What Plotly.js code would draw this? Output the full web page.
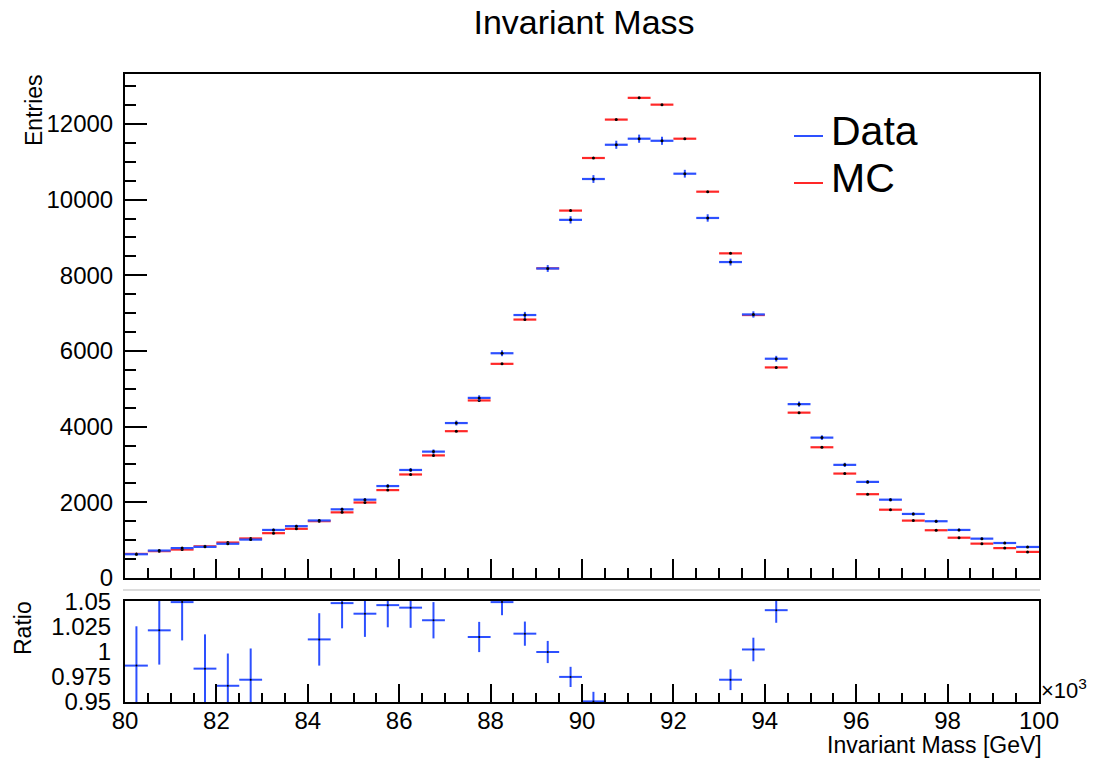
<!DOCTYPE html>
<html>
<head>
<meta charset="utf-8">
<script src="https://cdn.plot.ly/plotly-3.0.1.min.js"></script>
<style>html,body{margin:0;padding:0;background:#fff;}#chart{width:1094px;height:759px;}</style>
</head>
<body>
<div id="chart"></div>
<script>
// Bin centres of the invariant-mass histogram [GeV x 10^3]
const binCenters = [80.25,80.75,81.25,81.75,82.25,82.75,83.25,83.75,84.25,84.75,
                    85.25,85.75,86.25,86.75,87.25,87.75,88.25,88.75,89.25,89.75,
                    90.25,90.75,91.25,91.75,92.25,92.75,93.25,93.75,94.25,94.75,
                    95.25,95.75,96.25,96.75,97.25,97.75,98.25,98.75,99.25,99.75];
const binHalfWidth = 0.25;

// Data entries (blue)
const dataEntries = [628,725,790,823,905,1015,1270,1370,1520,1815,
                     2070,2430,2855,3340,4095,4760,5940,6950,8180,9465,
                     10545,11450,11610,11555,10685,9515,8350,6965,5795,4595,
                     3710,2990,2540,2070,1693,1500,1270,1040,925,820];
// Data statistical errors
const dataErrors = [25,27,28,29,30,32,36,37,39,43,
                    45,49,53,58,64,69,77,83,90,97,
                    103,107,108,107,103,98,91,83,76,68,
                    61,55,50,45,41,39,36,32,30,29];
// MC entries (red)
const mcEntries = [637,710,752,837,937,1045,1185,1300,1502,1735,
                   1995,2323,2736,3240,3880,4692,5660,6830,8185,9710,
                   11100,12115,12690,12510,11610,10210,8580,6950,5565,4370,
                   3455,2760,2215,1805,1517,1262,1065,908,790,690];

// Data/MC ratio as drawn in the lower pad (null = outside the shown range)
const ratioValues = [0.986,1.021,1.049,0.983,0.966,0.972,null,null,1.012,1.048,
                     1.0375,1.046,1.0435,1.031,null,1.0144,1.049,1.0177,0.9995,0.9748,
                     0.9505,null,null,null,null,null,0.972,1.002,1.041,null,
                     null,null,null,null,null,null,null,null,null,null];
const ratioErrors = [0.039,0.034,0.038,0.034,0.032,0.031,null,null,0.026,0.025,
                     0.023,0.022,0.020,0.018,null,0.015,0.013,0.012,0.011,0.010,
                     0.0095,null,null,null,null,null,0.0103,0.0117,0.0125,null,
                     null,null,null,null,null,null,null,null,null,null];

const xTickVals = [80,82,84,86,88,90,92,94,96,98,100];
const xTickText = ['80','82','84','86','88','90','92','94','96','98','100'];
const yTickVals = [0,2000,4000,6000,8000,10000,12000];
const yTickText = ['0','2000','4000','6000','8000','10000','12000'];
const ratioTickVals = [0.95,0.975,1,1.025,1.05];
const ratioTickText = ['0.95','0.975','1','1.025','1.05'];
const legendLabels = ['Data','MC'];

const BLUE = 'rgb(45,80,255)';
const RED = 'rgb(255,40,40)';
const FONT = 'Liberation Sans, Arial, Helvetica, sans-serif';

// pixel helpers for layout placement (plot area: x 125..1039, y 74..702)
const L = 125, R = 1039, T = 74, B = 702;
const px = x => (x - L) / (R - L);
const py = y => (B - y) / (B - T);

const traces = [
  {
    type: 'scatter', mode: 'markers', name: legendLabels[1],
    x: binCenters, y: mcEntries, xaxis: 'x', yaxis: 'y',
    marker: {size: 3, color: '#000'},
    error_x: {type: 'constant', value: binHalfWidth, color: RED, thickness: 2.2, width: 0},
    showlegend: false, hoverinfo: 'x+y'
  },
  {
    type: 'scatter', mode: 'markers', name: legendLabels[0],
    x: binCenters, y: dataEntries, xaxis: 'x', yaxis: 'y',
    marker: {size: 3, color: '#000'},
    error_x: {type: 'constant', value: binHalfWidth, color: BLUE, thickness: 2.2, width: 0},
    error_y: {type: 'data', array: dataErrors, color: BLUE, thickness: 2, width: 0},
    showlegend: false, hoverinfo: 'x+y'
  },
  {
    type: 'scatter', mode: 'markers', name: 'Ratio',
    x: binCenters, y: ratioValues, xaxis: 'x2', yaxis: 'y2',
    marker: {size: 2, color: '#000'},
    error_x: {type: 'constant', value: binHalfWidth, color: BLUE, thickness: 2, width: 0},
    error_y: {type: 'data', array: ratioErrors, color: BLUE, thickness: 2, width: 0},
    showlegend: false, hoverinfo: 'x+y'
  }
];

const tickFont = {family: FONT, size: 24, color: '#000'};
const mainBottom = py(578);
const ratioTop = py(601);

const layout = {
  width: 1094, height: 759,
  margin: {l: L, r: 1094 - R, t: T, b: 759 - B, pad: 0},
  paper_bgcolor: '#fff', plot_bgcolor: '#fff',
  showlegend: false,
  font: {family: FONT, color: '#000'},
  title: {text: 'Invariant Mass', font: {family: FONT, size: 34, color: '#000'},
          x: 584 / 1094, xref: 'container', xanchor: 'center',
          y: 1 - 22 / 759, yref: 'container', yanchor: 'middle'},
  xaxis: {
    domain: [0, 1], range: [80, 100], anchor: 'y',
    showgrid: false, zeroline: false, showline: true, mirror: true,
    linecolor: '#000', linewidth: 2,
    tickmode: 'array', tickvals: xTickVals, ticktext: xTickText,
    ticks: 'inside', ticklen: 19, tickwidth: 2, tickcolor: '#000',
    showticklabels: false,
    minor: {dtick: 0.5, tick0: 80, ticks: 'inside', ticklen: 10, tickwidth: 2, tickcolor: '#000', showgrid: false}
  },
  yaxis: {
    domain: [mainBottom, 1], range: [0, 13320], anchor: 'x',
    showgrid: false, zeroline: false, showline: true, mirror: true,
    linecolor: '#000', linewidth: 2,
    tickmode: 'array', tickvals: yTickVals, ticktext: yTickText,
    ticks: 'inside', ticklen: 22, tickwidth: 2, tickcolor: '#000',
    tickfont: tickFont, ticklabelstandoff: 5,
    minor: {dtick: 500, tick0: 0, ticks: 'inside', ticklen: 11, tickwidth: 2, tickcolor: '#000', showgrid: false}
  },
  xaxis2: {
    domain: [0, 1], range: [80, 100], anchor: 'y2',
    showgrid: false, zeroline: false, showline: true, mirror: true,
    linecolor: '#000', linewidth: 2,
    tickmode: 'array', tickvals: xTickVals, ticktext: xTickText,
    ticks: 'inside', ticklen: 18, tickwidth: 2, tickcolor: '#000',
    tickfont: tickFont, ticklabelstandoff: -4,
    minor: {dtick: 0.5, tick0: 80, ticks: 'inside', ticklen: 9, tickwidth: 2, tickcolor: '#000', showgrid: false}
  },
  yaxis2: {
    domain: [0, ratioTop], range: [0.9499, 1.0501], anchor: 'x2',
    showgrid: false, zeroline: false, showline: true, mirror: true,
    linecolor: '#000', linewidth: 2,
    tickmode: 'array', tickvals: ratioTickVals, ticktext: ratioTickText,
    ticks: '', tickfont: tickFont, ticklabelstandoff: 7
  },
  shapes: [
    {type: 'line', xref: 'paper', yref: 'paper', x0: px(794), x1: px(823), y0: py(136), y1: py(136),
     line: {color: BLUE, width: 2}},
    {type: 'line', xref: 'paper', yref: 'paper', x0: px(794), x1: px(823), y0: py(183), y1: py(183),
     line: {color: RED, width: 2}},
    {type: 'line', xref: 'paper', yref: 'paper', x0: px(123), x1: px(1040), y0: py(590), y1: py(590),
     line: {color: '#dcdcdc', width: 2}, layer: 'below'}
  ],
  annotations: [
    {text: legendLabels[0], xref: 'paper', yref: 'paper', x: px(829), y: py(131),
     xanchor: 'left', yanchor: 'middle', showarrow: false, font: {family: FONT, size: 41, color: '#000'}},
    {text: legendLabels[1], xref: 'paper', yref: 'paper', x: px(829), y: py(178),
     xanchor: 'left', yanchor: 'middle', showarrow: false, font: {family: FONT, size: 41, color: '#000'}},
    {text: 'Entries', xref: 'paper', yref: 'paper', x: px(34), y: py(72), textangle: -90,
     xanchor: 'center', yanchor: 'top', showarrow: false, font: {family: FONT, size: 23, color: '#000'}},
    {text: 'Ratio', xref: 'paper', yref: 'paper', x: px(23), y: py(599), textangle: -90,
     xanchor: 'center', yanchor: 'top', showarrow: false, font: {family: FONT, size: 23, color: '#000'}},
    {text: 'Invariant Mass [GeV]', xref: 'paper', yref: 'paper', x: px(1043), y: py(745),
     xanchor: 'right', yanchor: 'middle', showarrow: false, borderpad: 0,
     font: {family: FONT, size: 23, color: '#000'}},
    {text: '×10<sup>3</sup>', xref: 'paper', yref: 'paper', x: px(1039), y: py(689),
     xanchor: 'left', yanchor: 'middle', showarrow: false, font: {family: FONT, size: 22, color: '#000'}}
  ]
};

Plotly.newPlot('chart', traces, layout, {displayModeBar: false, staticPlot: true});
</script>
</body>
</html>
